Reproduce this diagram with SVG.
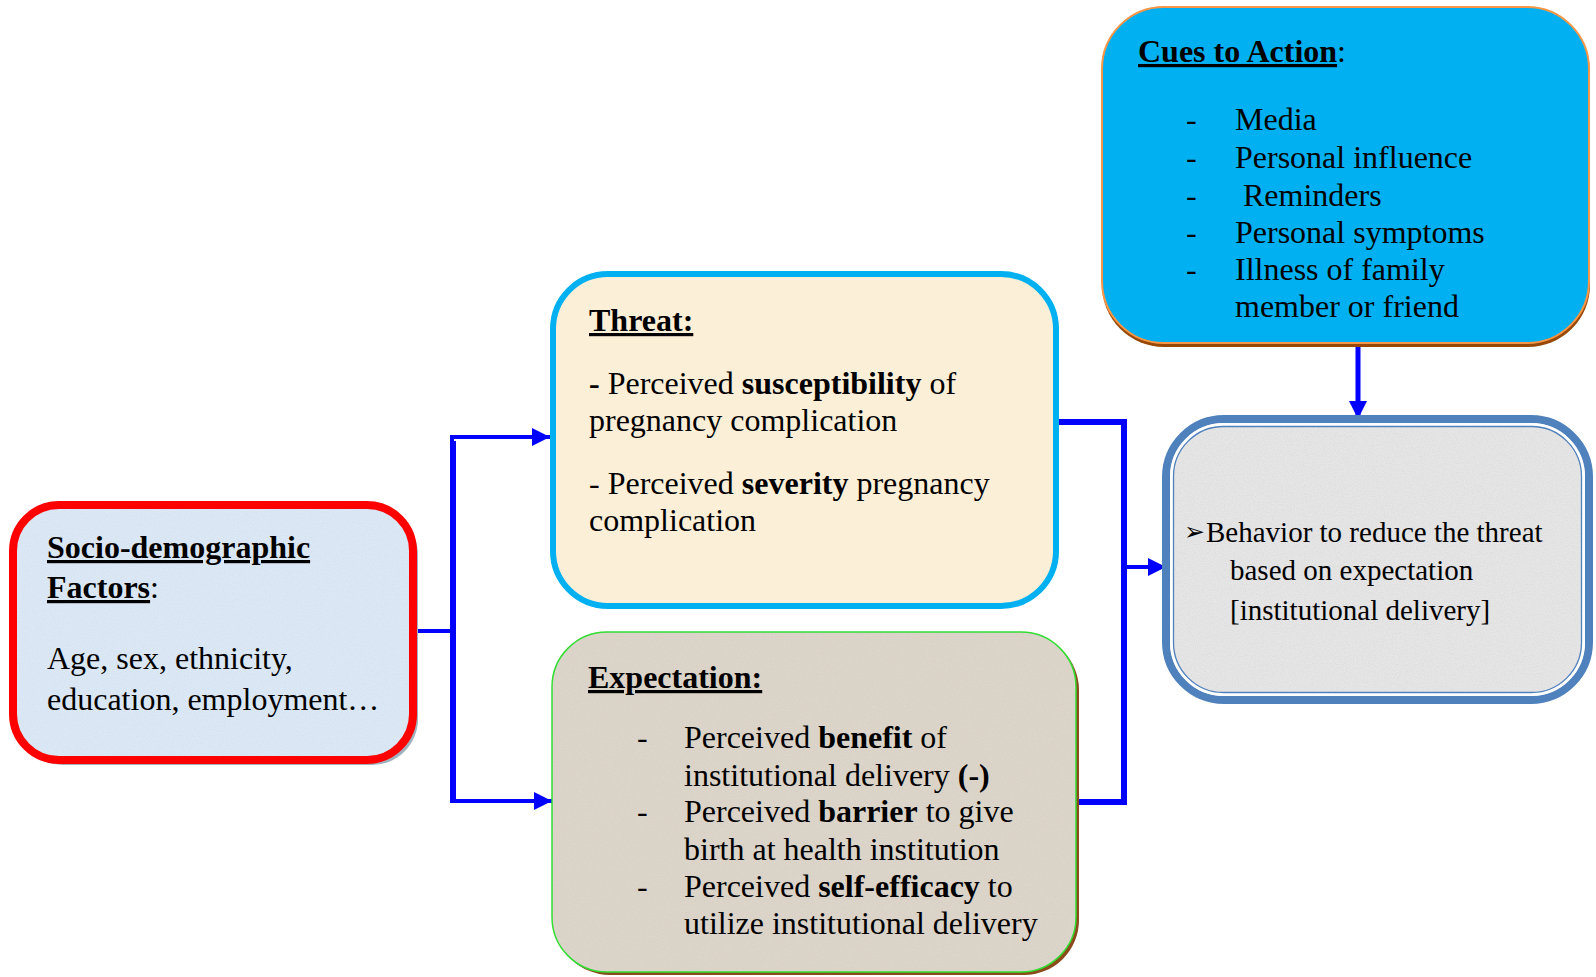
<svg xmlns="http://www.w3.org/2000/svg" width="1596" height="977" viewBox="0 0 1596 977">
<defs>
<style>
text{font-family:"Liberation Serif","Times New Roman",serif;font-size:32px;fill:#000}
.b{font-weight:bold}
.u{text-decoration:underline}
.sm{font-size:29px}
.conn{fill:none;stroke:#0000ff;stroke-linejoin:miter}
</style>
<marker id="ah" viewBox="0 0 10 10" refX="10" refY="5" markerWidth="18" markerHeight="18" orient="auto" markerUnits="userSpaceOnUse">
<path d="M0,0 L10,5 L0,10 z" fill="#0000ff"/>
</marker>
<filter id="noise" x="0" y="0" width="100%" height="100%">
<feTurbulence type="fractalNoise" baseFrequency="0.9" numOctaves="2" seed="3" result="n"/>
<feColorMatrix in="n" type="matrix" values="0 0 0 0 0.5  0 0 0 0 0.5  0 0 0 0 0.5  0 0 0 -1.2 0.75" result="g"/>
<feComposite in="g" in2="SourceGraphic" operator="in"/>
</filter>
</defs>

<g id="connectors">
<path class="conn" d="M452,439 V801" stroke="#b0b0b0" stroke-width="4" transform="translate(2,2)"/>
<path class="conn" d="M414,631 H452 M452,437 V803" stroke-width="4"/>
<path class="conn" d="M450,437 H550" stroke-width="4" marker-end="url(#ah)"/>
<path class="conn" d="M450,801 H552" stroke-width="4" marker-end="url(#ah)"/>
<path class="conn" d="M1059,422 H1124 V802 H1077" stroke-width="6"/>
<path class="conn" d="M1124,567 H1166" stroke-width="4" marker-end="url(#ah)"/>
<path class="conn" d="M1358,346 V419" stroke-width="5" marker-end="url(#ah)"/>
</g>

<g id="socio">
<rect x="17" y="509" width="401" height="256" rx="46" fill="#9fb2bd"/>
<rect x="13" y="505" width="400" height="255" rx="46" fill="#dbe8f6" stroke="#ff0000" stroke-width="8"/>
<rect x="17" y="509" width="392" height="247" rx="42" fill="#fff" filter="url(#noise)" opacity="0.25"/>
<text x="47" y="558" class="b"><tspan class="u">Socio-demographic</tspan></text>
<text x="47" y="598" class="b"><tspan class="u">Factors</tspan><tspan font-weight="normal">:</tspan></text>
<text x="47" y="669">Age, sex, ethnicity,</text>
<text x="47" y="710">education, employment…</text>
</g>

<g id="threat">
<rect x="553" y="274" width="503" height="332" rx="55" fill="#fcefd8" stroke="#00b0f0" stroke-width="6"/>
<text x="589" y="331" class="b"><tspan class="u">Threat:</tspan></text>
<text x="589" y="394"><tspan class="b">-</tspan> Perceived <tspan class="b">susceptibility</tspan> of</text>
<text x="589" y="431">pregnancy complication</text>
<text x="589" y="494">- Perceived <tspan class="b">severity</tspan> pregnancy</text>
<text x="589" y="531">complication</text>
</g>

<g id="expectation">
<rect x="555" y="635" width="524" height="340" rx="55" fill="#8a4a1a"/>
<rect x="552" y="632" width="524" height="340" rx="55" fill="#ddd5c9" stroke="#33dd33" stroke-width="1.5"/>
<rect x="553" y="633" width="522" height="338" rx="54" fill="#fff" filter="url(#noise)" opacity="0.35"/>
<text x="588" y="688" class="b"><tspan class="u">Expectation:</tspan></text>
<text x="637" y="748">-</text>
<text x="684" y="748">Perceived <tspan class="b">benefit</tspan> of</text>
<text x="684" y="786">institutional delivery <tspan class="b">(-)</tspan></text>
<text x="637" y="822">-</text>
<text x="684" y="822">Perceived <tspan class="b">barrier</tspan> to give</text>
<text x="684" y="860">birth at health institution</text>
<text x="637" y="897">-</text>
<text x="684" y="897">Perceived <tspan class="b">self-efficacy</tspan> to</text>
<text x="684" y="934">utilize institutional delivery</text>
</g>

<g id="cues">
<rect x="1102" y="11" width="488" height="336" rx="62" fill="#984806"/>
<rect x="1102" y="7" width="487" height="336" rx="62" fill="#00b0f0" stroke="#f79646" stroke-width="2"/>
<text x="1138" y="62" class="b"><tspan class="u">Cues to Action</tspan><tspan font-weight="normal">:</tspan></text>
<text x="1186" y="130">-</text><text x="1235" y="130">Media</text>
<text x="1186" y="168">-</text><text x="1235" y="168">Personal influence</text>
<text x="1186" y="206">-</text><text x="1243" y="206">Reminders</text>
<text x="1186" y="243">-</text><text x="1235" y="243">Personal symptoms</text>
<text x="1186" y="280">-</text><text x="1235" y="280">Illness of family</text>
<text x="1235" y="317">member or friend</text>
</g>

<g id="behavior">
<rect x="1166" y="419" width="423" height="281" rx="58" fill="#e6e6e6" stroke="#4f81bd" stroke-width="8"/>
<rect x="1170" y="423" width="415" height="273" rx="54" fill="#fff" filter="url(#noise)" opacity="0.4"/>
<rect x="1171.5" y="424.5" width="412" height="270" rx="52" fill="none" stroke="#ffffff" stroke-width="3"/>
<rect x="1173.5" y="426.5" width="408" height="266" rx="50" fill="none" stroke="#4f81bd" stroke-width="1.3"/>
<text x="1184" y="542" class="sm"><tspan font-family="DejaVu Sans" font-size="25" dy="-2">➢</tspan><tspan x="1206" dy="2">Behavior to reduce the threat</tspan></text>
<text x="1230" y="580" class="sm">based on expectation</text>
<text x="1230" y="620" class="sm">[institutional delivery]</text>
</g>
</svg>
